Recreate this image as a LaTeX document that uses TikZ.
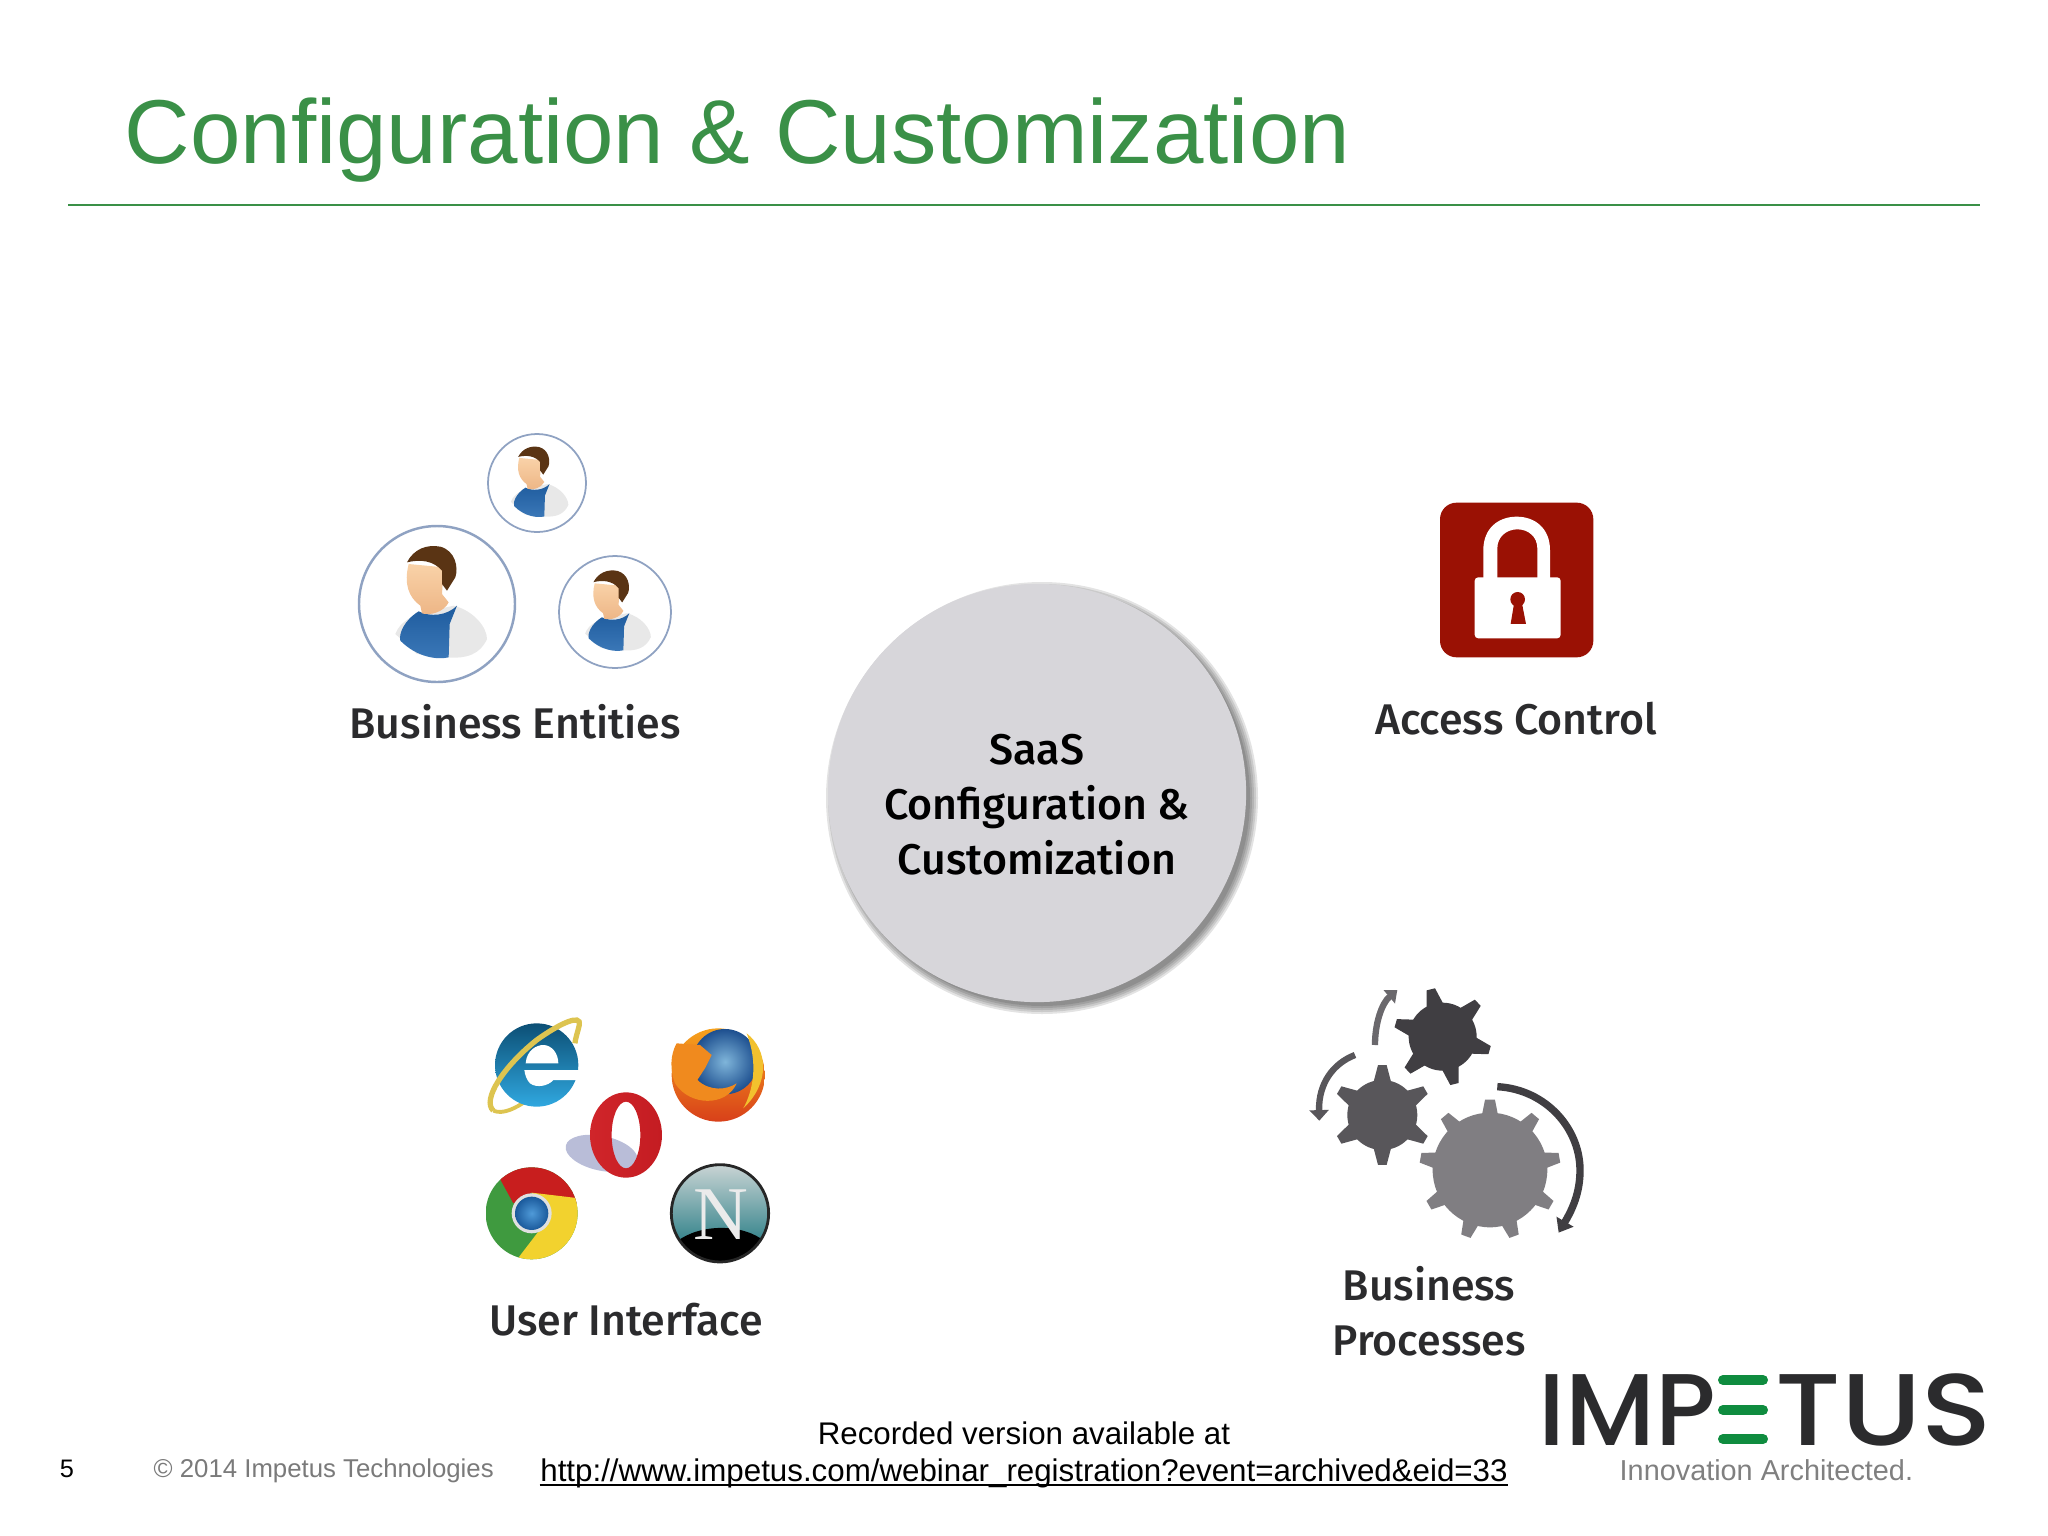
\documentclass[tikz,border=0pt]{standalone}
\usepackage{fontspec}
\usepackage{graphicx}
\setmainfont{Liberation Sans}
\newfontfamily\labelfont[UprightFont=* Medium]{Fira Sans}
\newfontfamily\logofont[UprightFont=* Medium]{Poppins}
\newfontfamily\serifletter{Liberation Serif}
\usepackage{tikz}
\usetikzlibrary{arrows.meta,calc}
\definecolor{titlegreen}{HTML}{3A9047}
\definecolor{logogreen}{HTML}{0F8C3F}
\definecolor{inkdark}{HTML}{2B2B2D}
\definecolor{hubgray}{HTML}{D7D6DA}
\definecolor{ringblue}{HTML}{8FA2C2}
\definecolor{lockred}{HTML}{9A1104}
\definecolor{geardark}{HTML}{403E42}
\definecolor{gearmid}{HTML}{58565A}
\definecolor{gearlight}{HTML}{807E82}
\definecolor{arrowmid}{HTML}{6A686C}
\definecolor{ieyellow}{HTML}{DDC450}
\definecolor{shirtA}{HTML}{1F5C9E}
\definecolor{shirtB}{HTML}{3B78B8}
\definecolor{skinA}{HTML}{F9D2A8}
\definecolor{skinB}{HTML}{EDB585}
\definecolor{hairbrown}{HTML}{5A3414}
\definecolor{ieA}{HTML}{0C4F75}
\definecolor{ieB}{HTML}{30A8E0}
\definecolor{foxA}{HTML}{F6A21C}
\definecolor{foxB}{HTML}{D8401A}
\definecolor{foxC}{HTML}{F08A1E}
\definecolor{foxD}{HTML}{F2C12E}
\definecolor{globeA}{HTML}{7FB5DA}
\definecolor{globeB}{HTML}{1D4F8F}
\definecolor{operaA}{HTML}{D0252A}
\definecolor{operaB}{HTML}{EE6468}
\definecolor{operaC}{HTML}{C41C22}
\definecolor{operaS}{HTML}{B9BDD8}
\definecolor{chromeG}{HTML}{3F9A3F}
\definecolor{chromeR}{HTML}{C81E1E}
\definecolor{chromeY}{HTML}{F2D22E}
\definecolor{chromeA}{HTML}{4F9AD8}
\definecolor{chromeB}{HTML}{1B5A9C}
\definecolor{navA}{HTML}{C9D4D4}
\definecolor{navB}{HTML}{0D6E78}
\tikzset{
  itemlabel/.style={font=\labelfont\fontsize{12.2}{15.6}\selectfont,text=inkdark,align=center,inner sep=0pt},
  logotext/.style={anchor=base west,inner sep=0pt,text=inkdark,text depth=0pt,font=\logofont\fontsize{29}{32}\selectfont},
  footnote/.style={font=\fontsize{8.9}{10}\selectfont,inner sep=0pt,anchor=base},
  personring/.style={draw=ringblue,line width=0.5pt,fill=white},
  personfig/.pic={
    \fill[black!9] (-125,90) .. controls (-110,50) and (-70,35) .. (-40,25) -- (50,5)
      .. controls (110,20) and (150,70) .. (150,105) .. controls (130,150) and (90,165) .. (30,160)
      -- (-60,150) -- cycle;
    \path[top color=shirtA,bottom color=shirtB] (-55,22) .. controls (-20,40) and (30,35) .. (60,5)
      -- (38,60) -- (35,160) .. controls (0,168) and (-60,160) .. (-110,110)
      .. controls (-115,90) and (-100,50) .. cycle;
    \path[top color=skinA,bottom color=skinB] (-85,-120) .. controls (-100,-60) and (-85,-20) .. (-50,5)
      -- (-45,28) .. controls (-20,35) and (20,25) .. (35,-5) -- (15,-30) -- (20,-110) -- cycle;
    \fill[hairbrown] (-90,-125) .. controls (-70,-165) and (-30,-180) .. (10,-172)
      .. controls (55,-160) and (65,-110) .. (55,-80) -- (30,-40) -- (15,-60) -- (15,-100)
      .. controls (-10,-130) and (-50,-135) .. cycle;
  }
}
\begin{document}
\begin{tikzpicture}[x=0.01cm,y=-0.01cm]
  \useasboundingbox (0,0) rectangle (2048,1536);

  % heading
  \node[anchor=base west,inner sep=0pt,text=titlegreen,font=\fontsize{25.8}{30}\selectfont] (heading) at (124,163) {Configuration \& Customization};
  \coordinate (ruleL) at (68,205);
  \coordinate (ruleR) at (1980,205);
  \draw[titlegreen,line width=0.5pt] (ruleL) -- (ruleR);

  % centre disc
  \foreach \sr in {216,214,212,210,208}{
    \fill[black,opacity=0.11] (1042,798) circle (\sr);
  }
  \node[circle,fill=hubgray,minimum size=4.18cm,inner sep=0pt] (hub) at (1037,793) {};
  \node[itemlabel,text=black] (hublabel) at (1037,805) {SaaS\\Configuration \&\\Customization};

  % people
  \draw[personring] (537,483) circle (49);
  \draw[personring,line width=0.7pt] (437,604) circle (78);
  \draw[personring] (615,612) circle (56);
  \pic[scale=0.209] at (537,483) {personfig};
  \pic[scale=0.3333] at (437,604) {personfig};
  \pic[scale=0.239] at (615,612) {personfig};
  \node[itemlabel,anchor=base] (entities) at (515,738) {Business Entities};

  % lock
  \begin{scope}[shift={(1400,480)},scale=0.3333]
    \fill[lockred,rounded corners=4.7pt] (120,68) rectangle (580,532);
    \fill[white] (250,295) -- (250,210) .. controls (250,145) and (295,110) .. (350,110)
      .. controls (405,110) and (450,145) .. (450,210) -- (450,295) -- (412,295) -- (412,205)
      .. controls (412,170) and (385,148) .. (352,148) .. controls (320,148) and (292,170) .. (292,205)
      -- (292,295) -- cycle;
    \fill[white,rounded corners=1pt] (224,292) rectangle (482,475);
    \fill[lockred] (353,358) circle (22);
    \fill[lockred] (343,365) -- (332,432) -- (378,432) -- (365,365) -- cycle;
  \end{scope}
  \node[itemlabel,anchor=base] (access) at (1516,734) {Access Control};

  % browsers
  \begin{scope}[shift={(460,1000)},scale=0.3333]
    % e
    \draw[ieyellow,line width=1.1pt] (100,332) .. controls (130,345) and (170,322) .. (195,305);
    \path[top color=ieA,bottom color=ieB] (230,195) circle (125);
    \fill[white] (197,190) .. controls (200,150) and (230,135) .. (250,135)
      .. controls (275,135) and (295,160) .. (295,190) -- cycle;
    \fill[white] (193,210) -- (358,210) -- (352,240) -- (280,240)
      .. controls (265,258) and (230,265) .. (210,250) .. controls (200,240) and (195,225) .. cycle;
    \draw[ieyellow,line width=1.5pt] (100,332) .. controls (65,300) and (130,200) .. (230,120)
      .. controls (300,70) and (365,40) .. (358,75) .. controls (352,100) and (345,120) .. (345,130);
    % fox
    \path[top color=foxA,bottom color=foxB] (775,225) circle (140);
    \path[inner color=globeA,outer color=globeB] (795,185) circle (98);
    \fill[foxC] (650,130) -- (720,135) -- (755,165) -- (735,205) -- (712,240)
      .. controls (750,275) and (800,270) .. (830,250) .. controls (800,320) and (690,320) .. (645,250)
      .. controls (630,210) and (630,165) .. cycle;
    \fill[foxD] (860,100) .. controls (925,150) and (930,250) .. (850,325)
      .. controls (880,270) and (895,190) .. cycle;
    % opera
    \fill[operaS,rotate around={-12:(425,460)}] (425,460) ellipse [x radius=110,y radius=52];
    \path[even odd rule,left color=operaA,middle color=operaB,right color=operaC]
      (498,405) ellipse [x radius=108,y radius=128] (498,405) ellipse [x radius=43,y radius=100];
    % chrome
    \begin{scope}
      \clip (215,640) circle (138);
      \fill[chromeG] (77,500) rectangle (353,780);
      \fill[chromeR] (160,610) -- (100,500) -- (380,500) -- (360,612) -- (215,578) -- cycle;
      \fill[chromeY] (215,578) -- (400,600) -- (400,800) -- (170,780) -- (235,695) -- cycle;
    \end{scope}
    \fill[black!12] (215,640) circle (60);
    \path[inner color=chromeA,outer color=chromeB] (215,640) circle (50);
    % N
    \begin{scope}
      \path[top color=navA,bottom color=navB] (780,640) circle (146);
      \clip (780,640) circle (146);
      \fill[black] (650,725) .. controls (720,670) and (850,670) .. (915,725) -- (915,800) -- (650,800) -- cycle;
    \end{scope}
    \draw[black!85,line width=0.8pt] (780,640) circle (146);
    \node[text=black!8,font=\serifletter\fontsize{21.6}{24}\selectfont,inner sep=0pt] (nav) at (782,643) {N};
  \end{scope}
  \node[itemlabel,anchor=base] (uiface) at (626,1335) {User Interface};

  % gears
  \begin{scope}[shift={(1280,970)},scale=0.3333]
    \foreach \gx/\gy/\grad/\gtip/\gnum/\gphase/\gcol/\gbase/\gtop in
      {488/200/102/147/6/16/geardark/15/5, 307/435/105/150/6/-90/gearmid/15/5, 630/600/172/212/9/-90/gearlight/8/4}{
      \fill[\gcol] (\gx,\gy) circle (\grad);
      \foreach \k in {1,...,\gnum}{
        \pgfmathsetmacro{\ang}{\gphase+(\k-1)*360/\gnum}
        \fill[\gcol] ($(\gx,\gy)+(\ang-\gbase:\grad-3)$) -- ($(\gx,\gy)+(\ang-\gtop:\gtip)$) -- ($(\gx,\gy)+(\ang+\gtop:\gtip)$) -- ($(\gx,\gy)+(\ang+\gbase:\grad-3)$) -- cycle;
      }
    }
    \draw[geardark,line width=2.1pt,-{Triangle[length=3.6pt,width=5.4pt]}] (652,350) .. controls (800,358) and (905,480) .. (900,610) .. controls (898,680) and (870,730) .. (836,788);
    \draw[gearmid,line width=1.8pt,-{Triangle[length=3pt,width=5.4pt]}] (225,255) .. controls (160,280) and (115,340) .. (118,452);
    \draw[arrowmid,line width=1.8pt,-{Triangle[length=3pt,width=4.8pt]}] (285,225) .. controls (285,160) and (305,100) .. (352,60);
  \end{scope}
  \node[itemlabel,anchor=center] (processes) at (1429,1311) {Business\\Processes};

  % footer
  \node[footnote] (recorded) at (1024,1444) {Recorded version available at};
  \node[footnote] (weblink) at (1024,1481) {http://www.impetus.com/webinar\_registration?event=archived\&eid=33};
  \draw[line width=0.65pt] ($(weblink.base west)+(0,4)$) -- ($(weblink.base east)+(0,4)$);
  \node[footnote,font=\fontsize{7.2}{9}\selectfont] (pagenum) at (67,1477) {5};
  \node[footnote,anchor=base west,text=black!52,font=\fontsize{7.33}{9}\selectfont] (copyline) at (153,1477) {© 2014 Impetus Technologies};

  % logo
  \node[logotext] (logoL) at (1538,1445) {IMP};
  \node[logotext] (logoR) at (1775,1445) {\scalebox{1.14}[1]{TUS}};
  \foreach \by in {1380,1410,1439}{
    \draw[logogreen,line width=2.85pt,line cap=round] (1723,\by) -- (1763,\by);
  }
  \node[anchor=base west,inner sep=0pt,text=black!50,font=\fontsize{8.2}{9}\selectfont] (tagline) at (1619,1480) {Innovation Architected.};
\end{tikzpicture}
\end{document}
